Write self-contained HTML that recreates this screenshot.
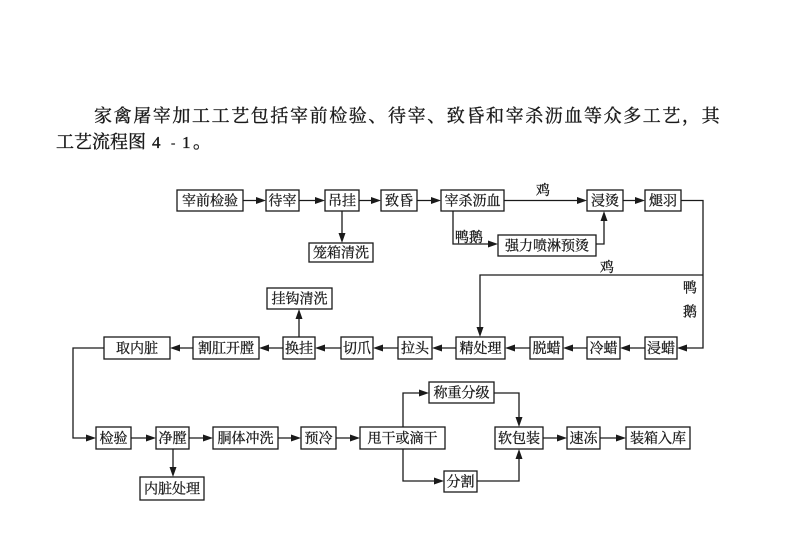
<!DOCTYPE html>
<html><head><meta charset="utf-8"><style>
html,body{margin:0;padding:0;background:#fff;width:800px;height:533px;overflow:hidden}
svg{display:block}
text{font-family:"Liberation Serif","Noto Serif CJK SC","Noto Sans CJK SC",serif;fill:#1a1a1a}
.b text{font-size:14px;text-anchor:middle;stroke:#1a1a1a;stroke-width:0.3}
.p{stroke:#1a1a1a;stroke-width:0.35}
</style></head><body>
<svg width="800" height="533" viewBox="0 0 800 533" xmlns="http://www.w3.org/2000/svg">
<!-- paragraph -->
<text class="p" x="94" y="122" style="font-size:18px" letter-spacing="1.6">家禽屠宰加工工艺包括宰前检验、待宰、致昏和宰杀沥血等众多工艺，其</text>
<text class="p" x="56" y="148" style="font-size:18px">工艺流程图</text>
<text class="p" x="152" y="148" style="font-size:17px;font-family:'Liberation Serif',serif">4</text>
<text class="p" x="171" y="147" style="font-size:13px;font-family:'Liberation Serif',serif">-</text>
<text class="p" x="182" y="148" style="font-size:17px;font-family:'Liberation Serif',serif">1</text>
<text class="p" x="193" y="148" style="font-size:18px">。</text>

<g fill="none" stroke="#1a1a1a" stroke-width="1.3">
<!-- row1 boxes -->
<rect x="177" y="190" width="66" height="21"/>
<rect x="266" y="190" width="33" height="21"/>
<rect x="325" y="190" width="34" height="21"/>
<rect x="381" y="190" width="36" height="21"/>
<rect x="441" y="190" width="63" height="21"/>
<rect x="587" y="190" width="36" height="21"/>
<rect x="645" y="190" width="36" height="21"/>
<rect x="309" y="243" width="64" height="19"/>
<rect x="498" y="235" width="98" height="21"/>
<!-- row2 boxes -->
<rect x="104" y="337" width="66" height="22"/>
<rect x="193" y="337" width="66" height="22"/>
<rect x="283" y="337" width="32" height="22"/>
<rect x="341" y="337" width="32" height="22"/>
<rect x="398" y="337" width="34" height="22"/>
<rect x="456" y="337" width="49" height="22"/>
<rect x="530" y="337" width="33" height="22"/>
<rect x="587" y="337" width="33" height="22"/>
<rect x="645" y="337" width="32" height="22"/>
<rect x="267" y="288" width="65" height="21"/>
<!-- row3 boxes -->
<rect x="96" y="427" width="35" height="22"/>
<rect x="156" y="427" width="33" height="22"/>
<rect x="213" y="427" width="65" height="22"/>
<rect x="301" y="427" width="35" height="22"/>
<rect x="360" y="427" width="85" height="22"/>
<rect x="495" y="427" width="48" height="22"/>
<rect x="567" y="427" width="33" height="22"/>
<rect x="626" y="427" width="64" height="22"/>
<rect x="140" y="477" width="64" height="23"/>
<rect x="429" y="382" width="65" height="21"/>
<rect x="444" y="471" width="33" height="21"/>

<!-- connectors -->
<path d="M243 200.5H258 M299 200.5H317 M359 200.5H373 M417 200.5H433 M504 200.5H579 M623 200.5H637"/>
<path d="M342 211V235"/>
<path d="M453 211V244H490"/>
<path d="M596 244H604V219"/>
<path d="M681 200.5H703V348H685"/>
<path d="M703 275H480V328"/>
<path d="M645 348H628 M587 348H571 M530 348H513 M456 348H440 M398 348H381 M341 348H323 M283 348H267 M193 348H178"/>
<path d="M299 337V317"/>
<path d="M104 348H73V438H88"/>
<path d="M131 438H148 M189 438H205 M278 438H293 M336 438H352 M543 438H559 M600 438H618"/>
<path d="M173 449V469"/>
<path d="M403 427V393H421"/>
<path d="M494 393H519V419"/>
<path d="M403 449V481H436"/>
<path d="M477 481H519V457"/>
</g>
<g fill="#1a1a1a">
<!-- right arrows -->
<polygon points="266,200.5 256,197 256,204"/>
<polygon points="325,200.5 315,197 315,204"/>
<polygon points="381,200.5 371,197 371,204"/>
<polygon points="441,200.5 431,197 431,204"/>
<polygon points="587,200.5 577,197 577,204"/>
<polygon points="645,200.5 635,197 635,204"/>
<polygon points="498,244 488,240.5 488,247.5"/>
<polygon points="96,438 86,434.5 86,441.5"/>
<polygon points="156,438 146,434.5 146,441.5"/>
<polygon points="213,438 203,434.5 203,441.5"/>
<polygon points="301,438 291,434.5 291,441.5"/>
<polygon points="360,438 350,434.5 350,441.5"/>
<polygon points="567,438 557,434.5 557,441.5"/>
<polygon points="626,438 616,434.5 616,441.5"/>
<polygon points="429,393 419,389.5 419,396.5"/>
<polygon points="444,481 434,477.5 434,484.5"/>
<!-- left arrows -->
<polygon points="677,348 687,344.5 687,351.5"/>
<polygon points="620,348 630,344.5 630,351.5"/>
<polygon points="563,348 573,344.5 573,351.5"/>
<polygon points="505,348 515,344.5 515,351.5"/>
<polygon points="432,348 442,344.5 442,351.5"/>
<polygon points="373,348 383,344.5 383,351.5"/>
<polygon points="315,348 325,344.5 325,351.5"/>
<polygon points="259,348 269,344.5 269,351.5"/>
<polygon points="170,348 180,344.5 180,351.5"/>
<!-- down arrows -->
<polygon points="342,243 338.5,233 345.5,233"/>
<polygon points="480,337 476.5,327 483.5,327"/>
<polygon points="173,477 169.5,467 176.5,467"/>
<polygon points="519,427 515.5,417 522.5,417"/>
<!-- up arrows -->
<polygon points="604,211 600.5,221 607.5,221"/>
<polygon points="299,309 295.5,319 302.5,319"/>
<polygon points="519,449 515.5,459 522.5,459"/>
</g>

<g class="b">
<text x="210" y="205.5">宰前检验</text>
<text x="282.5" y="205.5">待宰</text>
<text x="342" y="205.5">吊挂</text>
<text x="399" y="205.5">致昏</text>
<text x="472.5" y="205.5">宰杀沥血</text>
<text x="605" y="205.5">浸烫</text>
<text x="663" y="205.5">煺羽</text>
<text x="341" y="257.5">笼箱清洗</text>
<text x="547" y="250.5">强力喷淋预烫</text>
<text x="543" y="195">鸡</text>
<text x="469" y="242">鸭鹅</text>
<text x="607" y="272">鸡</text>
<text x="690" y="292.5">鸭</text>
<text x="690" y="316.5">鹅</text>

<text x="137" y="353">取内脏</text>
<text x="226" y="353">割肛开膛</text>
<text x="299" y="353">换挂</text>
<text x="357" y="353">切爪</text>
<text x="415" y="353">拉头</text>
<text x="480.5" y="353">精处理</text>
<text x="546.5" y="353">脱蜡</text>
<text x="603.5" y="353">冷蜡</text>
<text x="661" y="353">浸蜡</text>
<text x="299.5" y="303.5">挂钩清洗</text>

<text x="113.5" y="443">检验</text>
<text x="172.5" y="443">净膛</text>
<text x="245.5" y="443">胴体冲洗</text>
<text x="318.5" y="443">预冷</text>
<text x="402.5" y="443">甩干或滴干</text>
<text x="519" y="443">软包装</text>
<text x="583.5" y="443">速冻</text>
<text x="658" y="443">装箱入库</text>
<text x="172" y="493.5">内脏处理</text>
<text x="461.5" y="397.5">称重分级</text>
<text x="460.5" y="486.5">分割</text>
</g>
</svg>
</body></html>
